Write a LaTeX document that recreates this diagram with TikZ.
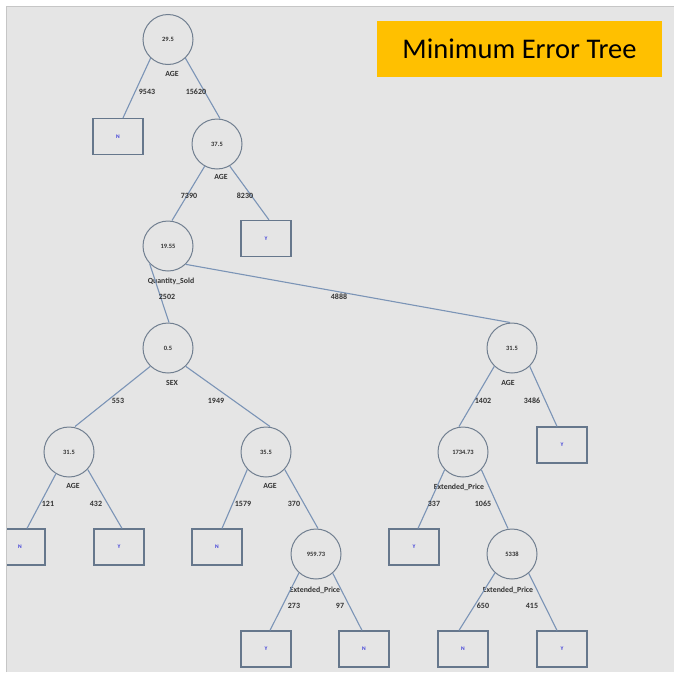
\documentclass[tikz,border=0pt]{standalone}
\usepackage{fontspec}
\setmainfont{Carlito}
\definecolor{panel}{HTML}{E5E5E5}
\definecolor{panelline}{HTML}{C6C6C6}
\definecolor{circcol}{HTML}{717F90}
\definecolor{boxcol}{HTML}{66778C}
\definecolor{edgecol}{HTML}{7B94B6}
\definecolor{leafcol}{HTML}{3C3CD8}
\definecolor{gold}{HTML}{FFC000}
\tikzset{
  split/.style={circle, draw=circcol, line width=1pt, minimum size=50pt, inner sep=0pt,
    font=\fontsize{6.5}{7}\selectfont\bfseries, text=black!80},
  leaf/.style={rectangle, draw=boxcol, line width=1.2pt, minimum width=50pt, minimum height=36pt,
    inner sep=0pt, font=\fontsize{5.5}{6}\selectfont\bfseries, text=leafcol},
  attr/.style={inner sep=0pt, font=\fontsize{7.8}{9}\selectfont\bfseries, text=black!80},
  cnt/.style={inner sep=0pt, font=\fontsize{8}{9}\selectfont\bfseries, text=black!80},
  edge/.style={draw=edgecol, line width=1.1pt},
}
\begin{document}
\begin{tikzpicture}[x=1pt,y=-1pt]
\useasboundingbox (0,0) rectangle (674,672);
\fill[white] (0,0) rectangle (674,672);
\fill[panel] (6,6) rectangle (674,672);
\draw[panelline, line width=1pt] (6,672) -- (6,6) -- (674,6);

\node[rectangle, fill=gold, minimum width=285pt, minimum height=56pt, inner sep=0pt,
  font=\fontsize{28.5}{31}\selectfont, text=black] (title) at (519.5,49) {Minimum Error Tree};

\begin{scope}
\clip (7,7) rectangle (674,672);
% split nodes
\node[split] (r)  at (168,39.5) {29.5};
\node[split] (c1) at (217,144) {37.5};
\node[split] (c2) at (168,246) {19.55};
\node[split] (c3) at (168,348) {0.5};
\node[split] (c4) at (69,452) {31.5};
\node[split] (c5) at (266,452) {35.5};
\node[split] (c6) at (316,554) {959.73};
\node[split] (c7) at (512,348) {31.5};
\node[split] (c8) at (463,452) {1734.73};
\node[split] (c9) at (512,554) {5338};
% leaves
\node[leaf] (l1)  at (118,136.5) {N};
\node[leaf] (b1)  at (266,238.5) {Y};
\node[leaf] (b2)  at (20,547) {N};
\node[leaf] (b3)  at (119,547) {Y};
\node[leaf] (b4)  at (217,547) {N};
\node[leaf] (b5)  at (266,649) {Y};
\node[leaf] (b6)  at (364,649) {N};
\node[leaf] (b7)  at (562,445) {Y};
\node[leaf] (b8)  at (414,547) {Y};
\node[leaf] (b9)  at (463,649) {N};
\node[leaf] (b10) at (562,649) {Y};
% attribute labels
\node[attr] (a0) at (172,74) {AGE};
\node[attr] (a1) at (221,177) {AGE};
\node[attr] (a2) at (171,281) {Quantity\_Sold};
\node[attr] (a3) at (172,383) {SEX};
\node[attr] (a4) at (73,486) {AGE};
\node[attr] (a5) at (270,486) {AGE};
\node[attr] (a6) at (315,590) {Extended\_Price};
\node[attr] (a7) at (508,383) {AGE};
\node[attr] (a8) at (459,487) {Extended\_Price};
\node[attr] (a9) at (508,590) {Extended\_Price};
% edges
\draw[edge] (r.-133) -- ([xshift=5pt]l1.north);
\draw[edge] (r.-47) -- ([xshift=3pt]c1.north);
\draw[edge] (c1.-119) -- ([xshift=4pt]c2.north);
\draw[edge] (c1.-60) -- ([xshift=3pt]b1.north);
\draw[edge] (c2.-136) -- ([xshift=1pt]c3.north);
\draw[edge] (c2.-46) -- ([xshift=-2pt]c7.north);
\draw[edge] (c3.-134) -- ([xshift=6pt]c4.north);
\draw[edge] (c3.-46) -- ([xshift=4pt]c5.north);
\draw[edge] (c4.-121) -- ([xshift=7pt]b2.north);
\draw[edge] (c4.-43) -- ([xshift=3pt]b3.north);
\draw[edge] (c5.-137) -- ([xshift=5pt]b4.north);
\draw[edge] (c5.-43) -- ([xshift=2pt]c6.north);
\draw[edge] (c6.-132) -- ([xshift=4pt]b5.north);
\draw[edge] (c6.-49) -- ([xshift=-2pt]b6.north);
\draw[edge] (c7.-134) -- ([xshift=-4pt]c8.north);
\draw[edge] (c7.-46) -- ([xshift=-5pt]b7.north);
\draw[edge] (c8.-136) -- ([xshift=4pt]b8.north);
\draw[edge] (c8.-44) -- ([xshift=-4pt]c9.north);
\draw[edge] (c9.-132) -- ([xshift=-4pt]b9.north);
\draw[edge] (c9.-49) -- ([xshift=-5pt]b10.north);
% count labels
\node[cnt] (n1) at (147,92) {9543};
\node[cnt] (n2) at (196,92) {15620};
\node[cnt] (n3) at (189,196) {7390};
\node[cnt] (n4) at (245,196) {8230};
\node[cnt] (n5) at (167,297) {2502};
\node[cnt] (n6) at (339,297) {4888};
\node[cnt] (n7) at (118,401) {553};
\node[cnt] (n8) at (216,401) {1949};
\node[cnt] (n9) at (48,504) {121};
\node[cnt] (n10) at (96,504) {432};
\node[cnt] (n11) at (243,504) {1579};
\node[cnt] (n12) at (294,504) {370};
\node[cnt] (n13) at (294,606) {273};
\node[cnt] (n14) at (340,606) {97};
\node[cnt] (n15) at (483,401) {1402};
\node[cnt] (n16) at (532,401) {3486};
\node[cnt] (n17) at (434,504) {337};
\node[cnt] (n18) at (483,504) {1065};
\node[cnt] (n19) at (483,606) {650};
\node[cnt] (n20) at (532,606) {415};
\end{scope}
\end{tikzpicture}
\end{document}
